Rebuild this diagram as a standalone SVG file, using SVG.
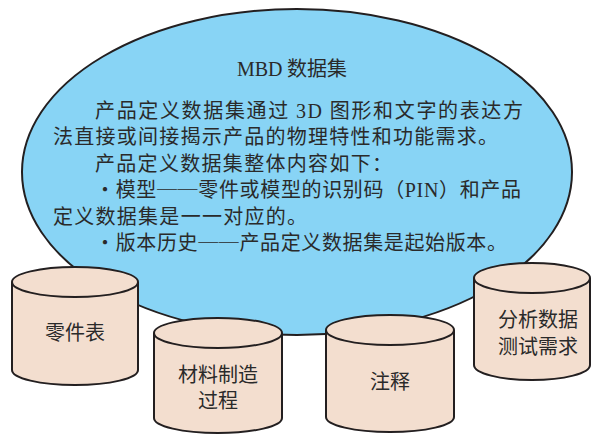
<svg xmlns="http://www.w3.org/2000/svg" width="593" height="434" viewBox="0 0 593 434">
<style>
.bg{fill:#ffffff}
.blob{fill:#88D4F5;stroke:#231F20;stroke-width:2}
.cyl{fill:#F3DECF;stroke:#231F20;stroke-width:2}
text{font-family:"Noto Sans CJK SC","Noto Sans",sans-serif;fill:#2a2a2a}
.body{font-size:20px}
.lat{font-family:"Liberation Serif","Noto Sans CJK SC",serif}
.lbl{font-size:20px;text-anchor:middle}
</style>
<rect class="bg" x="0" y="0" width="593" height="434"/>
<g id="mbd">
<ellipse class="blob" cx="297" cy="172" rx="275" ry="163"/>
<text x="292" y="76" font-size="20" text-anchor="middle"><tspan class="lat">MBD</tspan> 数据集</text>
<text class="body" x="95" y="118" textLength="428" lengthAdjust="spacing">产品定义数据集通过 <tspan class="lat">3D</tspan> 图形和文字的表达方</text>
<text class="body" x="53" y="144" textLength="445" lengthAdjust="spacing">法直接或间接揭示产品的物理特性和功能需求。</text>
<text class="body" x="95" y="170.5" textLength="297" lengthAdjust="spacing">产品定义数据集整体内容如下：</text>
<text class="body" x="95" y="197" textLength="426" lengthAdjust="spacing">・模型<tspan letter-spacing="0">──</tspan>零件或模型的识别码（<tspan class="lat">PIN</tspan>）和产品</text>
<text class="body" x="53" y="223.5" textLength="254" lengthAdjust="spacing">定义数据集是一一对应的。</text>
<text class="body" x="95" y="249.5" textLength="412" lengthAdjust="spacing">・版本历史<tspan letter-spacing="0">──</tspan>产品定义数据集是起始版本。</text>
</g>
<g id="connectors"/>
<g id="parts">
<path class="cyl" d="M12,282 V370 A63,15 0 0 0 138,370 V282"/>
<ellipse class="cyl" cx="75" cy="282" rx="63" ry="15"/>
<text class="lbl" x="75" y="340">零件表</text>
</g>
<g id="material">
<path class="cyl" d="M154,333 V418 A64,15 0 0 0 282,418 V333"/>
<ellipse class="cyl" cx="218" cy="333" rx="64" ry="15"/>
<text class="lbl" x="218" y="382">材料制造</text>
<text class="lbl" x="218" y="408">过程</text>
</g>
<g id="notes">
<path class="cyl" d="M326,330 V417 A64,15 0 0 0 454,417 V330"/>
<ellipse class="cyl" cx="390" cy="330" rx="64" ry="15"/>
<text class="lbl" x="390" y="389">注释</text>
</g>
<g id="analysis">
<path class="cyl" d="M474,278 V365 A58,15 0 0 0 590,365 V278"/>
<ellipse class="cyl" cx="532" cy="278" rx="58" ry="15"/>
<text class="lbl" x="538" y="327">分析数据</text>
<text class="lbl" x="538" y="354">测试需求</text>
</g>
</svg>
